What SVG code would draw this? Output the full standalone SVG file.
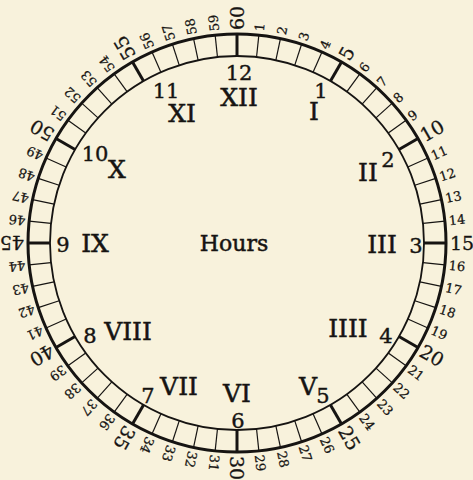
<svg xmlns="http://www.w3.org/2000/svg" width="473" height="480" viewBox="0 0 473 480">
<style>
.bg{fill:#f8f2dc}
.ring{fill:none;stroke:#161412}
.tk{stroke:#161412;stroke-width:1.2}
.tk5{stroke:#161412;stroke-width:3}
.ml{font-family:"DejaVu Serif","Liberation Serif",serif;font-size:13px;fill:#161412;stroke:#161412;stroke-width:0.25;dominant-baseline:central}
.mb{font-family:"DejaVu Serif","Liberation Serif",serif;font-size:19px;fill:#161412;stroke:#161412;stroke-width:0.3;dominant-baseline:central}
.ar{font-family:"DejaVu Serif","Liberation Serif",serif;font-size:21px;fill:#161412;stroke:#161412;stroke-width:0.4;text-anchor:middle}
.ro{font-family:"DejaVu Serif","Liberation Serif",serif;font-size:25px;fill:#161412;stroke:#161412;stroke-width:0.5;text-anchor:middle}
</style>
<rect class="bg" x="0" y="0" width="473" height="480"/>
<g id="dial" transform="translate(237,243)">
<circle class="ring" r="209" stroke-width="3"/>
<circle class="ring" r="187" stroke-width="1.8"/>
<g id="ticks">
<line class="tk5" x1="187" x2="209" transform="rotate(-90)"/>
<line class="tk" x1="187" x2="209" transform="rotate(-84)"/>
<line class="tk" x1="187" x2="209" transform="rotate(-78)"/>
<line class="tk" x1="187" x2="209" transform="rotate(-72)"/>
<line class="tk" x1="187" x2="209" transform="rotate(-66)"/>
<line class="tk5" x1="187" x2="209" transform="rotate(-60)"/>
<line class="tk" x1="187" x2="209" transform="rotate(-54)"/>
<line class="tk" x1="187" x2="209" transform="rotate(-48)"/>
<line class="tk" x1="187" x2="209" transform="rotate(-42)"/>
<line class="tk" x1="187" x2="209" transform="rotate(-36)"/>
<line class="tk5" x1="187" x2="209" transform="rotate(-30)"/>
<line class="tk" x1="187" x2="209" transform="rotate(-24)"/>
<line class="tk" x1="187" x2="209" transform="rotate(-18)"/>
<line class="tk" x1="187" x2="209" transform="rotate(-12)"/>
<line class="tk" x1="187" x2="209" transform="rotate(-6)"/>
<line class="tk5" x1="187" x2="209" transform="rotate(0)"/>
<line class="tk" x1="187" x2="209" transform="rotate(6)"/>
<line class="tk" x1="187" x2="209" transform="rotate(12)"/>
<line class="tk" x1="187" x2="209" transform="rotate(18)"/>
<line class="tk" x1="187" x2="209" transform="rotate(24)"/>
<line class="tk5" x1="187" x2="209" transform="rotate(30)"/>
<line class="tk" x1="187" x2="209" transform="rotate(36)"/>
<line class="tk" x1="187" x2="209" transform="rotate(42)"/>
<line class="tk" x1="187" x2="209" transform="rotate(48)"/>
<line class="tk" x1="187" x2="209" transform="rotate(54)"/>
<line class="tk5" x1="187" x2="209" transform="rotate(60)"/>
<line class="tk" x1="187" x2="209" transform="rotate(66)"/>
<line class="tk" x1="187" x2="209" transform="rotate(72)"/>
<line class="tk" x1="187" x2="209" transform="rotate(78)"/>
<line class="tk" x1="187" x2="209" transform="rotate(84)"/>
<line class="tk5" x1="187" x2="209" transform="rotate(90)"/>
<line class="tk" x1="187" x2="209" transform="rotate(96)"/>
<line class="tk" x1="187" x2="209" transform="rotate(102)"/>
<line class="tk" x1="187" x2="209" transform="rotate(108)"/>
<line class="tk" x1="187" x2="209" transform="rotate(114)"/>
<line class="tk5" x1="187" x2="209" transform="rotate(120)"/>
<line class="tk" x1="187" x2="209" transform="rotate(126)"/>
<line class="tk" x1="187" x2="209" transform="rotate(132)"/>
<line class="tk" x1="187" x2="209" transform="rotate(138)"/>
<line class="tk" x1="187" x2="209" transform="rotate(144)"/>
<line class="tk5" x1="187" x2="209" transform="rotate(150)"/>
<line class="tk" x1="187" x2="209" transform="rotate(156)"/>
<line class="tk" x1="187" x2="209" transform="rotate(162)"/>
<line class="tk" x1="187" x2="209" transform="rotate(168)"/>
<line class="tk" x1="187" x2="209" transform="rotate(174)"/>
<line class="tk5" x1="187" x2="209" transform="rotate(180)"/>
<line class="tk" x1="187" x2="209" transform="rotate(186)"/>
<line class="tk" x1="187" x2="209" transform="rotate(192)"/>
<line class="tk" x1="187" x2="209" transform="rotate(198)"/>
<line class="tk" x1="187" x2="209" transform="rotate(204)"/>
<line class="tk5" x1="187" x2="209" transform="rotate(210)"/>
<line class="tk" x1="187" x2="209" transform="rotate(216)"/>
<line class="tk" x1="187" x2="209" transform="rotate(222)"/>
<line class="tk" x1="187" x2="209" transform="rotate(228)"/>
<line class="tk" x1="187" x2="209" transform="rotate(234)"/>
<line class="tk5" x1="187" x2="209" transform="rotate(240)"/>
<line class="tk" x1="187" x2="209" transform="rotate(246)"/>
<line class="tk" x1="187" x2="209" transform="rotate(252)"/>
<line class="tk" x1="187" x2="209" transform="rotate(258)"/>
<line class="tk" x1="187" x2="209" transform="rotate(264)"/>
</g>
<g id="minute-labels">
<text class="mb" x="213" transform="rotate(-90)">60</text>
<text class="ml" x="213" transform="rotate(-84)">1</text>
<text class="ml" x="213" transform="rotate(-78)">2</text>
<text class="ml" x="213" transform="rotate(-72)">3</text>
<text class="ml" x="213" transform="rotate(-66)">4</text>
<text class="mb" x="213" transform="rotate(-60)">5</text>
<text class="ml" x="213" transform="rotate(-54)">6</text>
<text class="ml" x="213" transform="rotate(-48)">7</text>
<text class="ml" x="213" transform="rotate(-42)">8</text>
<text class="ml" x="213" transform="rotate(-36)">9</text>
<text class="mb" x="213" transform="rotate(-30)">10</text>
<text class="ml" x="213" transform="rotate(-24)">11</text>
<text class="ml" x="213" transform="rotate(-18)">12</text>
<text class="ml" x="213" transform="rotate(-12)">13</text>
<text class="ml" x="213" transform="rotate(-6)">14</text>
<text class="mb" x="213" transform="rotate(0)">15</text>
<text class="ml" x="213" transform="rotate(6)">16</text>
<text class="ml" x="213" transform="rotate(12)">17</text>
<text class="ml" x="213" transform="rotate(18)">18</text>
<text class="ml" x="213" transform="rotate(24)">19</text>
<text class="mb" x="213" transform="rotate(30)">20</text>
<text class="ml" x="213" transform="rotate(36)">21</text>
<text class="ml" x="213" transform="rotate(42)">22</text>
<text class="ml" x="213" transform="rotate(48)">23</text>
<text class="ml" x="213" transform="rotate(54)">24</text>
<text class="mb" x="213" transform="rotate(60)">25</text>
<text class="ml" x="213" transform="rotate(66)">26</text>
<text class="ml" x="213" transform="rotate(72)">27</text>
<text class="ml" x="213" transform="rotate(78)">28</text>
<text class="ml" x="213" transform="rotate(84)">29</text>
<text class="mb" x="213" transform="rotate(90)">30</text>
<text class="ml" x="213" transform="rotate(96)">31</text>
<text class="ml" x="213" transform="rotate(102)">32</text>
<text class="ml" x="213" transform="rotate(108)">33</text>
<text class="ml" x="213" transform="rotate(114)">34</text>
<text class="mb" x="213" transform="rotate(120)">35</text>
<text class="ml" x="213" transform="rotate(126)">36</text>
<text class="ml" x="213" transform="rotate(132)">37</text>
<text class="ml" x="213" transform="rotate(138)">38</text>
<text class="ml" x="213" transform="rotate(144)">39</text>
<text class="mb" x="213" transform="rotate(150)">40</text>
<text class="ml" x="213" transform="rotate(156)">41</text>
<text class="ml" x="213" transform="rotate(162)">42</text>
<text class="ml" x="213" transform="rotate(168)">43</text>
<text class="ml" x="213" transform="rotate(174)">44</text>
<text class="mb" x="213" transform="rotate(180)">45</text>
<text class="ml" x="213" transform="rotate(186)">46</text>
<text class="ml" x="213" transform="rotate(192)">47</text>
<text class="ml" x="213" transform="rotate(198)">48</text>
<text class="ml" x="213" transform="rotate(204)">49</text>
<text class="mb" x="213" transform="rotate(210)">50</text>
<text class="ml" x="213" transform="rotate(216)">51</text>
<text class="ml" x="213" transform="rotate(222)">52</text>
<text class="ml" x="213" transform="rotate(228)">53</text>
<text class="ml" x="213" transform="rotate(234)">54</text>
<text class="mb" x="213" transform="rotate(240)">55</text>
<text class="ml" x="213" transform="rotate(246)">56</text>
<text class="ml" x="213" transform="rotate(252)">57</text>
<text class="ml" x="213" transform="rotate(258)">58</text>
<text class="ml" x="213" transform="rotate(264)">59</text>
</g>
</g>
<g id="hour-labels">
<text class="ar" x="239" y="80">12</text><text class="ro" x="239" y="106">XII</text>
<text class="ar" x="321" y="98">1</text><text class="ro" x="314" y="120">I</text>
<text class="ar" x="388" y="167">2</text><text class="ro" x="368" y="181">II</text>
<text class="ar" x="416" y="253">3</text><text class="ro" x="382" y="253">III</text>
<text class="ar" x="386" y="343">4</text><text class="ro" x="348" y="337">IIII</text>
<text class="ar" x="323" y="403">5</text><text class="ro" x="308" y="395">V</text>
<text class="ar" x="238" y="428">6</text><text class="ro" x="237" y="402">VI</text>
<text class="ar" x="148" y="403">7</text><text class="ro" x="179" y="395">VII</text>
<text class="ar" x="90" y="343">8</text><text class="ro" x="128" y="340">VIII</text>
<text class="ar" x="63" y="252">9</text><text class="ro" x="95" y="252">IX</text>
<text class="ar" x="95" y="161">10</text><text class="ro" x="117" y="178">X</text>
<text class="ar" x="166" y="98">11</text><text class="ro" x="182" y="122">XI</text>
</g>
<text id="title" x="234" y="251" font-family="DejaVu Serif, Liberation Serif, serif" font-size="22" fill="#161412" stroke="#161412" stroke-width="0.5" text-anchor="middle">Hours</text>
</svg>
